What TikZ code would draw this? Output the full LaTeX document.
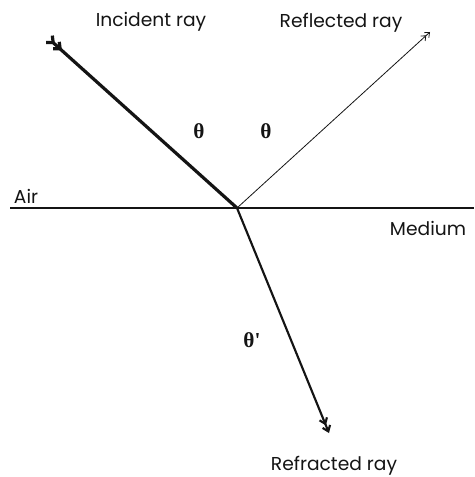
\documentclass[tikz,border=0pt]{standalone}
\usepackage{fontspec}
\newfontfamily\labelfont{Poppins}
\newfontfamily\anglefont{Liberation Serif}
\usetikzlibrary{arrows.meta, positioning, calc}
\definecolor{rayInk}{HTML}{141414}

\begin{document}
\begin{tikzpicture}[x=0.75pt, y=-0.75pt, every node/.style={font=\labelfont\fontsize{14}{16}\selectfont, text=rayInk, inner sep=1pt},
    anglelabel/.style={font=\anglefont\bfseries\fontsize{16}{18}\selectfont}]
        \useasboundingbox (0,0) rectangle (474,477);
        % interface and rays
        \coordinate (O) at (237,208);
        \coordinate (inc) at (48,38);
        \coordinate (refl) at (430,32);
        \coordinate (refr) at (329,433);
        \coordinate (left) at (10,208);
        \coordinate (right) at (474,208);
        \draw[rayInk, line width=0.8pt] (left) -- (right);
        \draw[rayInk, line width=2.4pt, {Straight Barb[reversed, length=4pt, width=7pt] Straight Barb[reversed, length=4pt, width=7pt]}-] (inc) -- (O);
        \draw[rayInk, line width=0.6pt, -{Straight Barb[length=3pt, width=5pt] Straight Barb[length=3pt, width=5pt]}] (O) -- (refl);
        \draw[rayInk, line width=1.6pt, -{Straight Barb[length=4pt, width=6pt] Straight Barb[length=4pt, width=6pt]}] (O) -- (refr);
        % labels
        \node (incL) at (151,22) {Incident ray};
        \node (reflL) at (341,23) {Reflected ray};
        \node (air) at (26,196) {Air};
        \node (med) at (428,228) {Medium};
        \node (refrL) at (334,466) {Refracted ray};
        \node[anglelabel] (th1) at (199,131) {θ};
        \node[anglelabel] (th2) at (266,131) {θ};
        \node[anglelabel] (th3) at (252,340) {θ'};
      \end{tikzpicture}
\end{document}
